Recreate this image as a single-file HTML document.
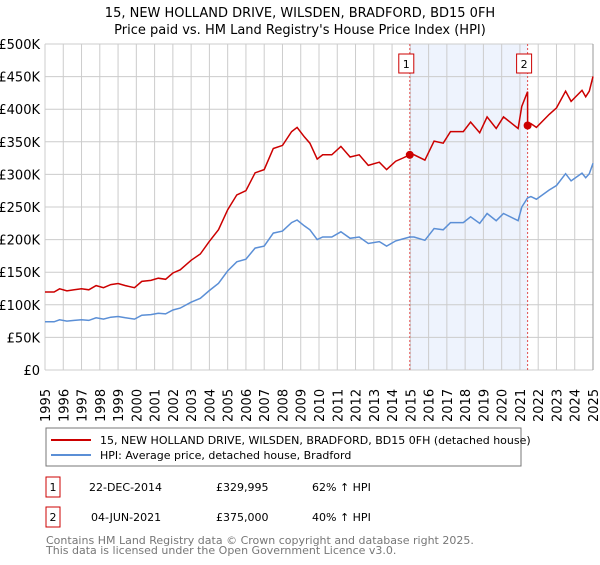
<!DOCTYPE html>
<html><head><meta charset="utf-8"><style>
body{margin:0;background:#fff;width:600px;height:560px;overflow:hidden;font-family:"Liberation Sans","DejaVu Sans",sans-serif}
svg text{font-family:"DejaVu Sans","Liberation Sans",sans-serif}
</style></head><body>
<svg id="c" width="600" height="560">
<text x="300" y="17" text-anchor="middle" font-size="13">15, NEW HOLLAND DRIVE, WILSDEN, BRADFORD, BD15 0FH</text>
<text x="300" y="34" text-anchor="middle" font-size="13">Price paid vs. HM Land Registry's House Price Index (HPI)</text>
<g id="g"></g>
<rect x="46" y="428" width="475" height="38" fill="#fff" stroke="#777"/>
<line x1="51" y1="440" x2="91" y2="440" stroke="#cc0000" stroke-width="2"/>
<text x="100" y="444" font-size="11">15, NEW HOLLAND DRIVE, WILSDEN, BRADFORD, BD15 0FH (detached house)</text>
<line x1="51" y1="455" x2="91" y2="455" stroke="#5b8fd6" stroke-width="2"/>
<text x="100" y="459" font-size="11">HPI: Average price, detached house, Bradford</text>
<g>
<rect x="46" y="477" width="14" height="20" fill="none" stroke="#cc0000"/>
<text x="53" y="491" text-anchor="middle" font-size="11">1</text>
<text x="89" y="491" font-size="11">22-DEC-2014</text>
<text x="216" y="491" font-size="11">£329,995</text>
<text x="312" y="491" font-size="11">62% ↑ HPI</text></g>
<g>
<rect x="46" y="507" width="14" height="20" fill="none" stroke="#cc0000"/>
<text x="53" y="521" text-anchor="middle" font-size="11">2</text>
<text x="91" y="521" font-size="11">04-JUN-2021</text>
<text x="216" y="521" font-size="11">£375,000</text>
<text x="312" y="521" font-size="11">40% ↑ HPI</text></g>
<text x="46" y="544" font-size="11" fill="#777">Contains HM Land Registry data © Crown copyright and database right 2025.</text>
<text x="46" y="554" font-size="11" fill="#777">This data is licensed under the Open Government Licence v3.0.</text>
</svg>
<script>
const hpiYears=[1995,1995.5,1995.8,1996.2,1996.6,1997,1997.4,1997.8,1998.2,1998.6,1999,1999.4,1999.9,2000.3,2000.8,2001.2,2001.6,2002,2002.4,2003,2003.5,2004,2004.5,2005,2005.5,2006,2006.5,2007,2007.5,2008,2008.5,2008.8,2009.2,2009.5,2009.9,2010.2,2010.7,2011.2,2011.7,2012.2,2012.7,2013.3,2013.7,2014.2,2014.6,2014.97,2015.2,2015.8,2016.3,2016.8,2017.2,2017.9,2018.3,2018.8,2019.2,2019.7,2020.1,2020.9,2021.1,2021.42,2021.6,2021.9,2022.6,2023,2023.5,2023.8,2024.4,2024.6,2024.8,2025.0];
const hpiValues=[74,74,77,75,76,77,76,80,78,81,82,80,78,84,85,87,86,92,95,104,110,122,133,152,166,170,187,190,210,213,226,230,221,215,200,204,204,212,202,204,194,197,190,198,201,204,204,199,217,215,226,226,235,225,240,229,240,229,250,264,266,262,276,283,301,290,302,295,301,317];
const saleYears=[2014.97,2021.42];
const salePrices=[329995,375000];
const saleLabels=["1","2"];
const yTicks=[0,50,100,150,200,250,300,350,400,450,500];
const yTickLabels=["£0","£50K","£100K","£150K","£200K","£250K","£300K","£350K","£400K","£450K","£500K"];
const xTicks=[1995,1996,1997,1998,1999,2000,2001,2002,2003,2004,2005,2006,2007,2008,2009,2010,2011,2012,2013,2014,2015,2016,2017,2018,2019,2020,2021,2022,2023,2024,2025];

const L=45,R=593,T=44,B=370;
const xs=y=>L+(y-1995)/30*(R-L);
const ys=v=>B-v/500*(B-T);
const g=document.getElementById('g');
const NS="http://www.w3.org/2000/svg";
function mk(t,a){const e=document.createElementNS(NS,t);for(const k in a)e.setAttribute(k,a[k]);g.appendChild(e);return e;}
function hpiAt(y){for(let i=0;i<hpiYears.length-1;i++){if(y>=hpiYears[i]&&y<=hpiYears[i+1]){const f=(y-hpiYears[i])/(hpiYears[i+1]-hpiYears[i]);return hpiValues[i]+f*(hpiValues[i+1]-hpiValues[i]);}}return hpiValues[hpiValues.length-1];}

let sh=mk('rect',{x:xs(saleYears[0]),y:T,width:xs(saleYears[1])-xs(saleYears[0]),height:B-T,fill:'#eef3fd'});


yTicks.forEach((v,i)=>{
 let l=mk('line',{x1:L,x2:R,y1:ys(v),y2:ys(v),stroke:'#ccc'});
 
 
 let t=mk('text',{x:40,y:ys(v)+5,'text-anchor':'end','font-size':13});
 t.textContent=yTickLabels[i];
 
 
});
xTicks.forEach(y=>{
 let l=mk('line',{x1:xs(y),x2:xs(y),y1:T,y2:B,stroke:'#ccc'});
 
 
 let t=mk('text',{x:0,y:0,'font-size':13,transform:`translate(${xs(y)+5},${B+52}) rotate(-90)`});
 t.textContent=y;
 
 
});
let rb=mk('line',{x1:R,x2:R,y1:T,y2:B,stroke:'#999'});


saleYears.forEach((y,i)=>{
 let l=mk('line',{x1:xs(y),x2:xs(y),y1:T,y2:B,stroke:'#e05050','stroke-dasharray':'2,2'});
 
 
 let r=mk('rect',{x:xs(y)-11,y:54,width:15,height:19,fill:'#fff',stroke:'#cc0000'});
 
 
 let t=mk('text',{x:xs(y)-3.5,y:68,'text-anchor':'middle','font-size':11});
 t.textContent=saleLabels[i];
 
 
});
// HPI line
let hp=hpiYears.map((y,i)=>xs(y).toFixed(1)+','+ys(hpiValues[i]).toFixed(1)).join(' ');
let hl=mk('polyline',{points:hp,fill:'none',stroke:'#5b8fd6','stroke-width':1.5});


// property line
const r1=salePrices[0]/1000/hpiAt(saleYears[0]);
const r2=salePrices[1]/1000/hpiAt(saleYears[1]);
let pts=[];
hpiYears.forEach((y,i)=>{if(y<=saleYears[1])pts.push([y,hpiValues[i]*r1]);});
pts.push([saleYears[1],hpiAt(saleYears[1])*r1]);
pts.push([saleYears[1],salePrices[1]/1000]);
hpiYears.forEach((y,i)=>{if(y>saleYears[1])pts.push([y,hpiValues[i]*r2]);});
let pl=mk('polyline',{points:pts.map(p=>xs(p[0]).toFixed(1)+','+ys(p[1]).toFixed(1)).join(' '),fill:'none',stroke:'#cc0000','stroke-width':1.5});


saleYears.forEach((y,i)=>{
 let c=mk('circle',{cx:xs(y),cy:ys(salePrices[i]/1000),r:4,fill:'#cc0000'});
 
 
});
</script>
</body></html>
